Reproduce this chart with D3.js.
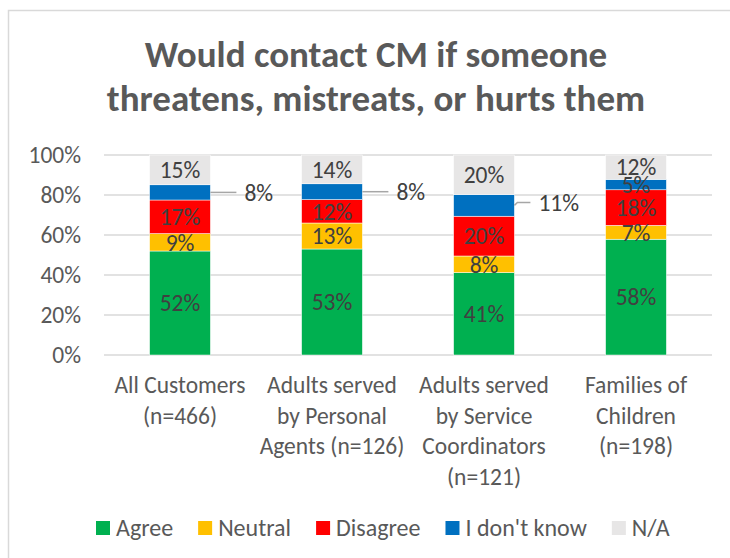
<!DOCTYPE html><html><head><meta charset="UTF-8"><script src="https://d3js.org/d3.v7.min.js"></script><style>
  body { margin: 0; background: #fff; }
  svg text { font-family: Calibri, Carlito, "Liberation Sans", Arial, sans-serif; }
</style></head><body><div id="chart"></div><script>
  // values (percent)
  const categories = [
    ["All Customers", "(n=466)"],
    ["Adults served", "by Personal", "Agents (n=126)"],
    ["Adults served", "by Service", "Coordinators", "(n=121)"],
    ["Families of", "Children", "(n=198)"]
  ];
  const seriesNames = ["Agree", "Neutral", "Disagree", "I don't know", "N/A"];
  const agree    = [52.0, 53.0, 41.2, 57.9];
  const neutral  = [8.7, 13.0, 8.3, 6.9];
  const disagree = [16.8, 11.7, 19.9, 17.8];
  const dontKnow = [7.6, 7.9, 10.8, 5.2];
  const na       = [14.9, 14.4, 19.8, 12.2];
  const yTicks = [0, 20, 40, 60, 80, 100];

  const colors = ["#00b050", "#ffc000", "#ff0000", "#0070c0", "#e7e6e6"];
  // "I don't know" labels drawn outside with a leader line for these bars
  const calloutBars = [0, 1, 2];

  const W = 730, H = 558;
  const plot = {left: 104, right: 712, top: 155, bottom: 355};
  const fs = 23.5;

  const rows = categories.map((c, i) => ({
    i, "Agree": agree[i], "Neutral": neutral[i], "Disagree": disagree[i],
    "I don't know": dontKnow[i], "N/A": na[i]
  }));
  const stacked = d3.stack().keys(seriesNames)(rows);

  const svg = d3.select('#chart').append('svg')
    .attr('width', W).attr('height', H);

  svg.append('rect')
    .attr('x', 8.5).attr('y', 10.5)
    .attr('width', 760).attr('height', 580)
    .attr('fill', '#fff').attr('stroke', '#d9d9d9').attr('stroke-width', 1.5);

  // title
  svg.append('text')
    .attr('x', 376).attr('y', 67)
    .attr('text-anchor', 'middle')
    .attr('font-size', 37).attr('font-weight', 'bold').attr('fill', '#595959')
    .selectAll('tspan')
    .data(["Would contact CM if someone", "threatens, mistreats, or hurts them"])
    .enter().append('tspan')
    .attr('x', 376)
    .attr('dy', (d, i) => i === 0 ? 0 : 44)
    .text(d => d);

  const x = d3.scaleBand()
    .domain(d3.range(categories.length))
    .range([plot.left, plot.right])
    .paddingInner(0.6).paddingOuter(0.3);

  const y = d3.scaleLinear()
    .domain([0, 100])
    .range([plot.bottom, plot.top]);

  // gridlines
  svg.append('g')
    .selectAll('line')
    .data(yTicks)
    .enter().append('line')
    .attr('x1', plot.left).attr('x2', plot.right)
    .attr('y1', d => y(d)).attr('y2', d => y(d))
    .attr('stroke', '#d9d9d9').attr('stroke-width', 1.5);

  // y axis labels
  const yAxis = svg.append('g')
    .attr('transform', `translate(${plot.left},0)`)
    .call(d3.axisLeft(y).tickValues(yTicks).tickSize(0).tickPadding(23).tickFormat(d => d + '%'));
  yAxis.select('.domain').remove();
  yAxis.selectAll('text')
    .attr('font-size', fs).attr('fill', '#595959')
    .style('font-family', 'Calibri, Carlito, "Liberation Sans", Arial, sans-serif');

  // bars
  const layers = svg.append('g')
    .selectAll('g')
    .data(stacked)
    .enter().append('g')
    .attr('fill', (d, i) => colors[i]);

  layers.selectAll('rect')
    .data(d => d)
    .enter().append('rect')
    .attr('x', (d, i) => x(i))
    .attr('width', x.bandwidth())
    .attr('y', d => y(d[1]))
    .attr('height', d => y(d[0]) - y(d[1]))
    .attr('stroke', '#fff').attr('stroke-width', 0.5);

  // data labels
  const fmt = v => d3.format('.0f')(v) + '%';
  stacked.forEach((layer, si) => {
    layer.forEach((d, i) => {
      const v = d[1] - d[0];
      const cy = y((d[0] + d[1]) / 2);
      if (seriesNames[si] === "I don't know" && calloutBars.includes(i)) {
        const x0 = x(i) + x.bandwidth();
        const bend = i === 2 ? 3 : 0;
        const len = i === 2 ? 16 : 26;
        svg.append('path')
          .attr('d', `M${x0},${cy} L${x0 + 3},${cy - bend} L${x0 + len},${cy - bend}`)
          .attr('fill', 'none').attr('stroke', '#a6a6a6').attr('stroke-width', 1.5);
        svg.append('text')
          .attr('x', x0 + len + 8).attr('y', cy - bend)
          .attr('dy', '0.35em')
          .attr('font-size', fs).attr('fill', '#404040')
          .text(fmt(v));
      } else {
        svg.append('text')
          .attr('x', x(i) + x.bandwidth() / 2).attr('y', cy)
          .attr('dy', '0.35em')
          .attr('text-anchor', 'middle')
          .attr('font-size', fs).attr('fill', '#404040')
          .text(fmt(v));
      }
    });
  });

  // category labels
  svg.append('g')
    .selectAll('text')
    .data(categories)
    .enter().append('text')
    .attr('text-anchor', 'middle')
    .attr('font-size', fs).attr('fill', '#595959')
    .attr('y', 393)
    .each(function(lines, i) {
      d3.select(this).selectAll('tspan')
        .data(lines)
        .enter().append('tspan')
        .attr('x', x(i) + x.bandwidth() / 2)
        .attr('dy', (d, j) => j === 0 ? 0 : 30.5)
        .text(d => d);
    });

  // legend
  const legend = svg.append('g').attr('transform', 'translate(0,528)');
  let lx = 96;
  seriesNames.forEach((name, i) => {
    legend.append('rect')
      .attr('x', lx).attr('y', -7)
      .attr('width', 14).attr('height', 14)
      .attr('fill', colors[i]);
    const t = legend.append('text')
      .attr('x', lx + 20).attr('y', 0)
      .attr('dy', '0.35em')
      .attr('font-size', 24).attr('fill', '#595959')
      .text(name);
    lx += 20 + t.node().getComputedTextLength() + 25;
  });
</script></body></html>
